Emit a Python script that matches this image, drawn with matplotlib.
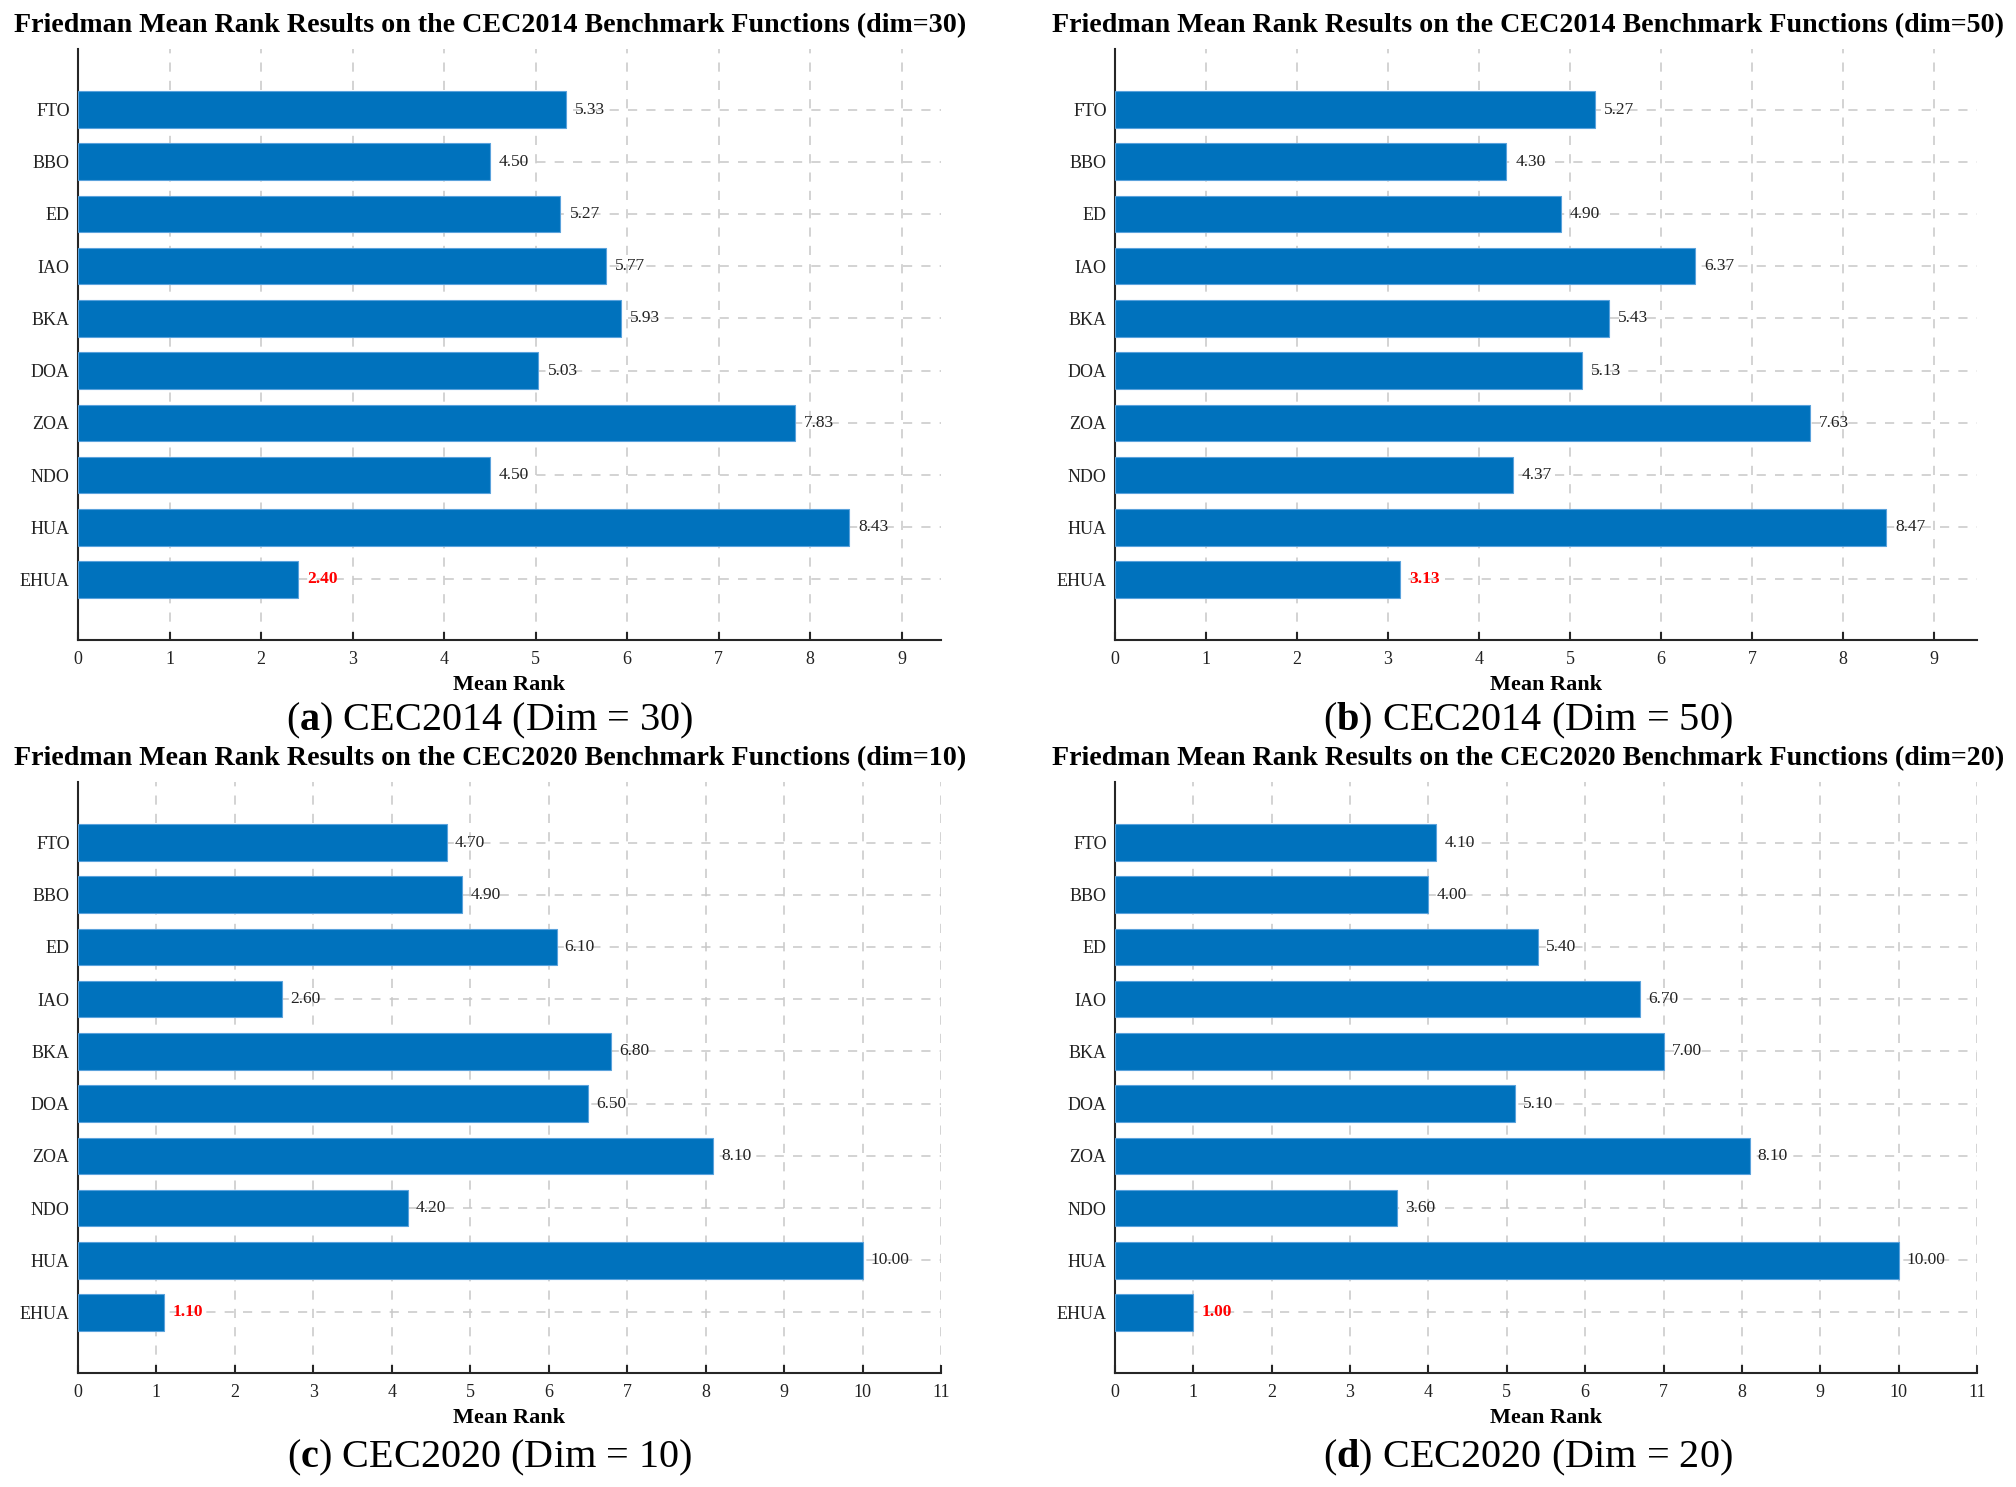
import matplotlib
matplotlib.use("Agg")
import matplotlib.pyplot as plt
import numpy as np

plt.rcParams['font.family'] = ['Liberation Serif', 'DejaVu Serif']
plt.rcParams['mathtext.fontset'] = 'custom'
plt.rcParams['mathtext.rm'] = 'Liberation Serif'
plt.rcParams['mathtext.bf'] = 'Liberation Serif:bold'

# -----------------------------
# Data
# -----------------------------
algorithms = ['FTO', 'BBO', 'ED', 'IAO', 'BKA', 'DOA', 'ZOA', 'NDO', 'HUA', 'EHUA']

rank_cec2014_d30 = [5.33, 4.50, 5.27, 5.77, 5.93, 5.03, 7.83, 4.50, 8.43, 2.40]
rank_cec2014_d50 = [5.27, 4.30, 4.90, 6.37, 5.43, 5.13, 7.63, 4.37, 8.47, 3.13]
rank_cec2020_d10 = [4.70, 4.90, 6.10, 2.60, 6.80, 6.50, 8.10, 4.20, 10.00, 1.10]
rank_cec2020_d20 = [4.10, 4.00, 5.40, 6.70, 7.00, 5.10, 8.10, 3.60, 10.00, 1.00]

titles = [
    'Friedman Mean Rank Results on the CEC2014 Benchmark Functions (dim=30)',
    'Friedman Mean Rank Results on the CEC2014 Benchmark Functions (dim=50)',
    'Friedman Mean Rank Results on the CEC2020 Benchmark Functions (dim=10)',
    'Friedman Mean Rank Results on the CEC2020 Benchmark Functions (dim=20)',
]
captions = [
    r'($\mathbf{a}$) CEC2014 (Dim = 30)',
    r'($\mathbf{b}$) CEC2014 (Dim = 50)',
    r'($\mathbf{c}$) CEC2020 (Dim = 10)',
    r'($\mathbf{d}$) CEC2020 (Dim = 20)',
]
all_ranks = [rank_cec2014_d30, rank_cec2014_d50, rank_cec2020_d10, rank_cec2020_d20]

BAR_COLOR = '#0072BD'
W, H = 2016, 1487

fig = plt.figure(figsize=(W / 100, H / 100), dpi=100)

# axes boxes in pixels: left, top, right, bottom
boxes = [
    (78, 49, 941, 640),
    (1115, 49, 1977, 640),
    (78, 782, 941, 1373),
    (1115, 782, 1977, 1373),
]
text_cx = [490, 1528, 490, 1528]
title_y = [26, 26, 759, 759]
caption_y = [721, 721, 1458, 1458]

for k in range(4):
    l, t, r, b = boxes[k]
    ax = fig.add_axes([l / W, 1 - b / H, (r - l) / W, (b - t) / H])
    vals = np.array(all_ranks[k])
    ypos = np.arange(len(algorithms), 0, -1)  # FTO at top, EHUA at bottom

    ax.barh(ypos, vals, height=0.7, color=BAR_COLOR,
            edgecolor='#5aa2dc', linewidth=0.8, zorder=3)

    for y, v, name in zip(ypos, vals, algorithms):
        if name == 'EHUA':
            ax.text(v + 0.1, y, f'{v:.2f}', va='center', ha='left',
                    fontsize=12.5, color='red', fontweight='bold', zorder=4)
        else:
            ax.text(v + 0.1, y, f'{v:.2f}', va='center', ha='left',
                    fontsize=12.5, color='#222222', zorder=4)

    xmax = vals.max() + 1
    ax.set_xlim(0, xmax)
    ax.set_ylim(-0.16, 11.16)
    ax.set_xticks(np.arange(0, int(np.floor(xmax)) + 1))
    ax.set_yticks(ypos)
    ax.set_yticklabels(algorithms)

    ax.grid(True, linestyle=(0, (6, 6)), color='#c8c8c8', linewidth=1.1, zorder=0)
    ax.set_axisbelow(True)

    ax.spines['top'].set_visible(False)
    ax.spines['right'].set_visible(False)
    for s in ('left', 'bottom'):
        ax.spines[s].set_color('#262626')
        ax.spines[s].set_linewidth(1.5)

    ax.tick_params(axis='both', direction='in', length=6, width=1.5,
                   color='#262626', labelsize=13, labelcolor='#222222')
    ax.tick_params(axis='x', pad=8)
    ax.tick_params(axis='y', pad=6)

    ax.set_xlabel('Mean Rank', fontsize=16, fontweight='bold', labelpad=5)

    fig.text(text_cx[k] / W, 1 - title_y[k] / H, titles[k], ha='center', va='center',
             fontsize=20.2, fontweight='bold')
    fig.text(text_cx[k] / W, 1 - caption_y[k] / H, captions[k], ha='center', va='center',
             fontsize=29)

fig.savefig('out.png', dpi=100, facecolor='white')
